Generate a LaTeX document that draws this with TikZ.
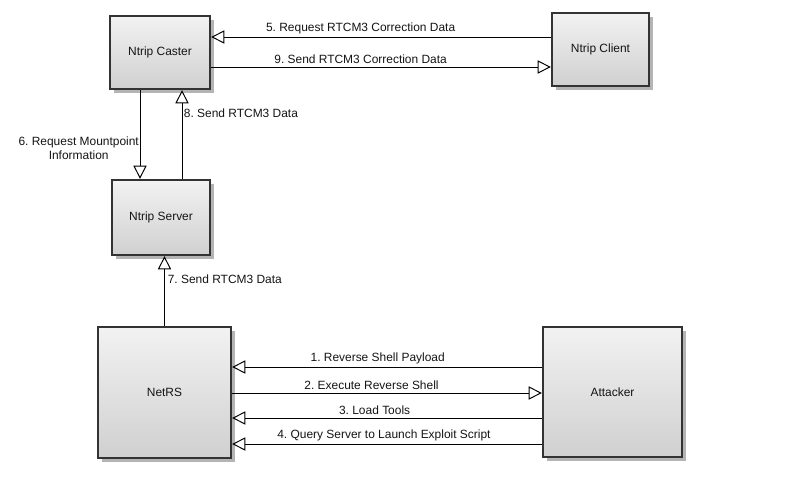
\documentclass[tikz,border=0pt]{standalone}
\usepackage{fontspec}
\setmainfont{Liberation Sans}
\usepackage{tikz}
\usetikzlibrary{arrows.meta, calc, shadows}
\frenchspacing
\definecolor{boxborder}{RGB}{51,51,51}
\definecolor{boxtop}{RGB}{242,242,242}
\definecolor{boxbottom}{RGB}{208,208,208}
\definecolor{boxshadow}{RGB}{180,180,180}
\definecolor{textdark}{RGB}{20,20,20}
\tikzstyle{device} = [rectangle, draw=boxborder, line width=1.6pt, top color=boxtop, bottom color=boxbottom, drop shadow={shadow xshift=0.1cm, shadow yshift=-0.1cm, fill=boxshadow, opacity=1}, font=\fontsize{8.5}{10}\selectfont, text=textdark, inner sep=0pt]
\tikzstyle{msg} = [line width=0.7pt, -{Triangle[open, length=0.33cm, width=0.33cm]}]
\tikzstyle{lbl} = [font=\fontsize{8.5}{10}\selectfont, text=textdark, inner sep=2pt]

\begin{document}
\begin{tikzpicture}[x=0.025cm, y=0.025cm]
\useasboundingbox (0,0) rectangle (787,-485);

% Nodes
\node[device, minimum width=2.5cm, minimum height=1.825cm] (caster) at (160,-52.5) {Ntrip Caster};
\node[device, minimum width=2.425cm, minimum height=1.825cm] (client) at (600.5,-49.5) {Ntrip Client};
\node[device, minimum width=2.45cm, minimum height=1.875cm] (server) at (161,-217.5) {Ntrip Server};
\node[device, minimum width=3.325cm, minimum height=3.275cm] (netrs) at (164.5,-392.5) {NetRS};
\node[device, minimum width=3.475cm, minimum height=3.25cm] (attacker) at (612.5,-392) {Attacker};

% Caster <-> Client
\coordinate (c5) at ($(client.west)+(0,12.5)$);
\coordinate (c9) at ($(client.west)+(0,-17.5)$);
\draw[msg] (c5) -- node[lbl, above, pos=.56] {5. Request RTCM3 Correction Data} (c5 -| caster.east);
\draw[msg] (c9 -| caster.east) -- node[lbl, above, pos=.44] {9. Send RTCM3 Correction Data} (c9);

% Caster <-> Server
\coordinate (c6) at ($(caster.south)+(-20,0)$);
\coordinate (c8) at ($(caster.south)+(22,0)$);
\draw[msg] (c6) -- node[lbl, left, pos=.65, align=center, inner sep=0.5pt] {6. Request Mountpoint\\Information} (c6 |- server.north);
\draw[msg] (c8 |- server.north) -- node[lbl, right, pos=.74, inner sep=1pt] {8. Send RTCM3 Data} (c8);

% NetRS -> Server
\draw[msg] (netrs.north) -- node[lbl, right, pos=.67] {7. Send RTCM3 Data} (netrs.north |- server.south);

% Attacker <-> NetRS
\coordinate (c1) at ($(attacker.west)+(0,25)$);
\coordinate (c2) at ($(attacker.west)+(0,-1)$);
\coordinate (c3) at ($(attacker.west)+(0,-26)$);
\coordinate (c4) at ($(attacker.west)+(0,-52)$);
\draw[msg] (c1) -- node[lbl, above, pos=.53] {1. Reverse Shell Payload} (c1 -| netrs.east);
\draw[msg] (c2 -| netrs.east) -- node[lbl, above, pos=.45] {2. Execute Reverse Shell} (c2);
\draw[msg] (c3) -- node[lbl, above, pos=.54] {3. Load Tools} (c3 -| netrs.east);
\draw[msg] (c4) -- node[lbl, above, pos=.51] {4. Query Server to Launch Exploit Script} (c4 -| netrs.east);

\end{tikzpicture}
\end{document}
